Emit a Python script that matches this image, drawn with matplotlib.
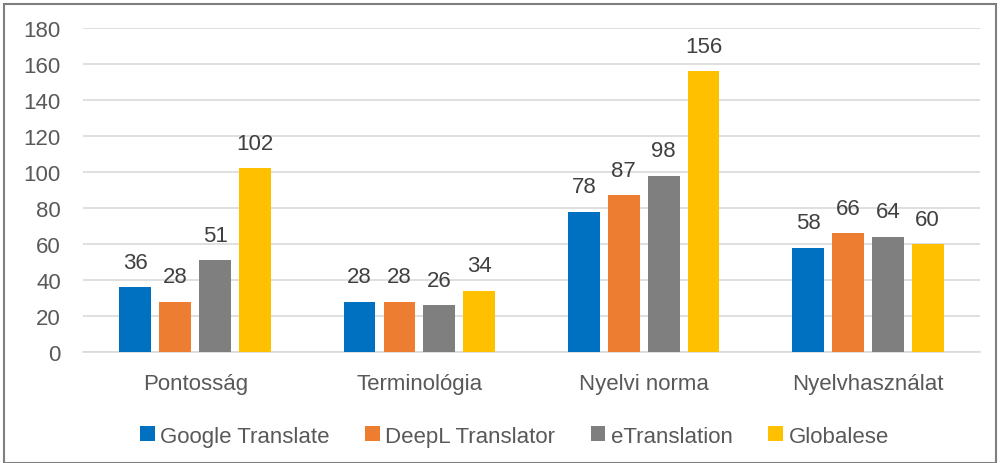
import matplotlib.pyplot as plt
import numpy as np
from matplotlib.patches import Rectangle

categories = ['Pontosság', 'Terminológia', 'Nyelvi norma', 'Nyelvhasználat']
series = ['Google Translate', 'DeepL Translator', 'eTranslation', 'Globalese']
google = [36, 28, 78, 58]
deepl = [28, 28, 87, 66]
etrans = [51, 26, 98, 64]
globalese = [102, 34, 156, 60]
colors = ['#0070C0', '#ED7D31', '#7F7F7F', '#FFC000']

plt.rcParams['font.family'] = ['Liberation Sans', 'DejaVu Sans']
text_color = '#595959'

fig = plt.figure(figsize=(10.01, 4.64), dpi=100)
ax = fig.add_axes([0.083, 0.239, 0.896, 0.6985])

x = np.arange(len(categories))
step = 0.178
width = 0.142
values = [google, deepl, etrans, globalese]
for i, (name, vals, c) in enumerate(zip(series, values, colors)):
    pos = x + (i - 1.5) * step
    bars = ax.bar(pos, vals, width, color=c, label=name, zorder=3)
    for b, v in zip(bars, vals):
        ax.text(b.get_x() + b.get_width() / 2, v + 8, str(v), ha='center', va='bottom',
                fontsize=16, color='#404040')

ax.set_xlim(-0.5, 3.5)
ax.set_ylim(0, 180)
ax.set_yticks(range(0, 181, 20))
ax.yaxis.grid(True, color='#D9D9D9', linewidth=1.2, zorder=0)
ax.set_xticks(x)
ax.set_xticklabels(categories)
ax.tick_params(axis='both', length=0, labelsize=16, colors=text_color)
ax.tick_params(axis='y', pad=16)
ax.tick_params(axis='x', pad=15)
for s in ['top', 'right', 'left']:
    ax.spines[s].set_visible(False)
ax.spines['bottom'].set_color('#D9D9D9')
ax.spines['bottom'].set_linewidth(1.2)

leg = fig.legend(loc='center', bbox_to_anchor=(0.514, 0.058), ncol=4, frameon=False,
                 fontsize=16, handlelength=0.65, handleheight=0.65, handletextpad=0.25,
                 columnspacing=1.6)
for t in leg.get_texts():
    t.set_color(text_color)

fig.patches.append(Rectangle((0.004, 0.0), 0.991, 0.99, transform=fig.transFigure,
                             fill=False, edgecolor='#7F7F7F', linewidth=1.5))

fig.savefig('out.png', dpi=100)
